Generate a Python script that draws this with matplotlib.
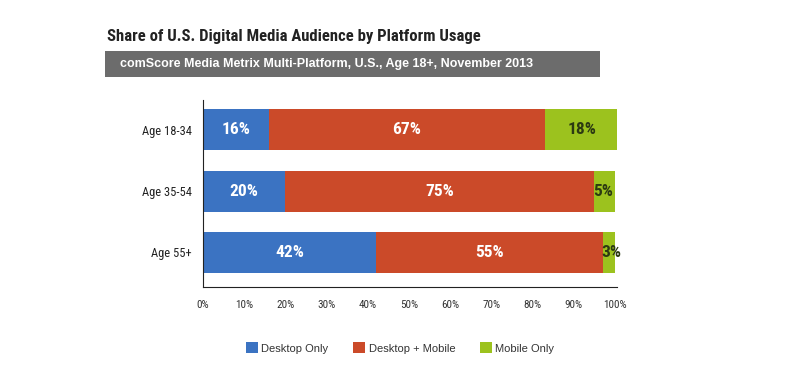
import numpy as np
import matplotlib.pyplot as plt
from matplotlib.patches import Rectangle

ages = ['Age 18-34', 'Age 35-54', 'Age 55+']
desktop_only = [16, 20, 42]
desktop_mobile = [67, 75, 55]
mobile_only = [18, 5, 3]
series_names = ['Desktop Only', 'Desktop + Mobile', 'Mobile Only']
xticks = [0, 10, 20, 30, 40, 50, 60, 70, 80, 90, 100]

colors = ['#3b73c2', '#cb4a29', '#9cc21e']
label_colors = ['white', 'white', '#2c3a12']
narrow = ['Roboto Condensed', 'DejaVu Sans']
arial = ['Liberation Sans', 'DejaVu Sans']

fig = plt.figure(figsize=(8, 3.78), dpi=100)
fig.patch.set_facecolor('white')

# title and grey subtitle band
fig.text(107 / 800, 1 - 37 / 378, 'Share of U.S. Digital Media Audience by Platform Usage',
         family=narrow, fontweight='bold', fontsize=12, color='#222222', va='center')
fig.patches.append(Rectangle((105 / 800, 1 - 77 / 378), 495 / 800, 26 / 378,
                             transform=fig.transFigure, facecolor='#6c6c6c', edgecolor='none'))
fig.text(120 / 800, 1 - 64 / 378, 'comScore Media Metrix Multi-Platform, U.S., Age 18+, November 2013',
         family=arial, fontweight='bold', fontsize=9, color='white', va='center')

ax = fig.add_axes([203 / 800, 1 - 287 / 378, 414 / 800, 187 / 378])
y = np.arange(len(ages))
left = np.zeros(len(ages))
for vals, c, lc, name in zip([desktop_only, desktop_mobile, mobile_only], colors, label_colors, series_names):
    vals = np.array(vals, dtype=float)
    ax.barh(y, vals, left=left, height=0.67, color=c, label=name)
    for i, v in enumerate(vals):
        if v < 8:
            ax.text(left[i] - 0.4, y[i], f'{int(v)}%', ha='left', va='center',
                    family=narrow, fontweight='bold', fontsize=12.5, color=lc)
        else:
            ax.text(left[i] + v / 2, y[i], f'{int(v)}%', ha='center', va='center',
                    family=narrow, fontweight='bold', fontsize=12.5, color=lc)
    left += vals

ax.set_xlim(0, 100.5)
ax.set_ylim(2.57, -0.49)
ax.set_yticks(y)
ax.set_yticklabels(ages, family=narrow, fontsize=9, color='#222222')
ax.set_xticks(xticks)
ax.set_xticklabels([f'{t}%' for t in xticks], family=narrow, fontsize=8, color='#333333')
ax.tick_params(length=0)
ax.tick_params(axis='x', pad=9)
ax.tick_params(axis='y', pad=8)
for s in ['top', 'right']:
    ax.spines[s].set_visible(False)
ax.spines['left'].set_color('#222222')
ax.spines['bottom'].set_color('#222222')

leg = fig.legend(loc='center', bbox_to_anchor=(400 / 800, 1 - 348 / 378), ncol=3, frameon=False,
                 handlelength=1.1, handleheight=1.1, handletextpad=0.3,
                 columnspacing=2.2, prop={'family': arial, 'size': 8})
for t in leg.get_texts():
    t.set_color('#333333')

fig.savefig('out.png', dpi=100)
